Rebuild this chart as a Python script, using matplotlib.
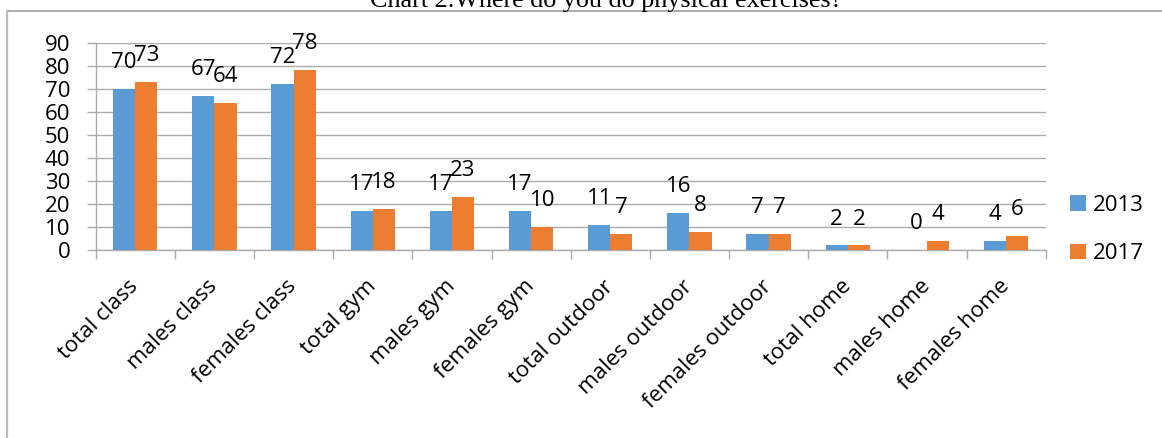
import matplotlib.pyplot as plt
import numpy as np

categories = ['total class', 'males class', 'females class', 'total gym', 'males gym',
              'females gym', 'total outdoor', 'males outdoor', 'females outdoor',
              'total home', 'males home', 'females home']
vals_2013 = [70, 67, 72, 17, 17, 17, 11, 16, 7, 2, 0, 4]
vals_2017 = [73, 64, 78, 18, 23, 10, 7, 8, 7, 2, 4, 6]
series_names = ['2013', '2017']
yticks = list(range(0, 100, 10))

BLUE = '#5B9BD5'
ORANGE = '#ED7D31'
GRID = '#ABABAB'

W, H = 1162, 438
plt.rcParams['font.family'] = ['Open Sans', 'DejaVu Sans']
fig = plt.figure(figsize=(W / 100, H / 100), dpi=100)

# chart border (top and left visible only)
fig.add_artist(plt.Line2D([6.7 / W, 1], [1 - 11 / H, 1 - 11 / H], color='#A6A6A6', lw=1.3))
fig.add_artist(plt.Line2D([6.7 / W, 6.7 / W], [0, 1 - 11 / H], color='#BDBDBD', lw=1.6))

fig.text(606 / W, 1 - 7 / H, 'Chart 2.Where do you do physical exercises?',
         family='Liberation Serif', fontsize=18.8, ha='center', va='baseline')

left, right = 95.7, 1045.7
top, bottom = 42.7, 250
ax = fig.add_axes([left / W, 1 - bottom / H, (right - left) / W, (bottom - top) / H])

x = np.arange(len(categories))
bw = 0.28
b1 = ax.bar(x - bw / 2, vals_2013, bw, color=BLUE, label=series_names[0], zorder=3)
b2 = ax.bar(x + bw / 2, vals_2017, bw, color=ORANGE, label=series_names[1], zorder=3)

for bars, vals in ((b1, vals_2013), (b2, vals_2017)):
    for r, v in zip(bars, vals):
        ax.annotate(str(v), (r.get_x() + r.get_width() / 2, v), xytext=(0, 19),
                    textcoords='offset points', ha='center', va='center',
                    fontsize=16, zorder=4)

ax.set_xlim(-0.5, len(categories) - 0.5)
ax.set_ylim(0, 90)
ax.set_yticks(yticks)
ax.yaxis.grid(True, color=GRID, lw=1.0, zorder=0)
ax.set_axisbelow(True)
ax.tick_params(axis='y', length=6.3, color=GRID, width=1.0, pad=12, labelsize=16)

ax.set_xticks(x)
ax.set_xticklabels(categories, rotation=45, ha='right', rotation_mode='anchor',
                   va='center', fontsize=16)
ax.tick_params(axis='x', which='major', length=0, pad=24)
ax.set_xticks(np.arange(len(categories) + 1) - 0.5, minor=True)
ax.tick_params(axis='x', which='minor', length=6.3, color=GRID, width=1.0)

for s in ('top', 'right'):
    ax.spines[s].set_visible(False)
for s in ('left', 'bottom'):
    ax.spines[s].set_color(GRID)
    ax.spines[s].set_linewidth(1.0)

fig.legend(handles=[b1, b2], loc='upper left', bbox_to_anchor=(1070 / W, 1 - 195 / H),
           frameon=False, fontsize=16, handlelength=0.7, handleheight=0.7,
           handletextpad=0.35, labelspacing=1.22, borderpad=0, borderaxespad=0)

fig.savefig('out.png', dpi=100)
